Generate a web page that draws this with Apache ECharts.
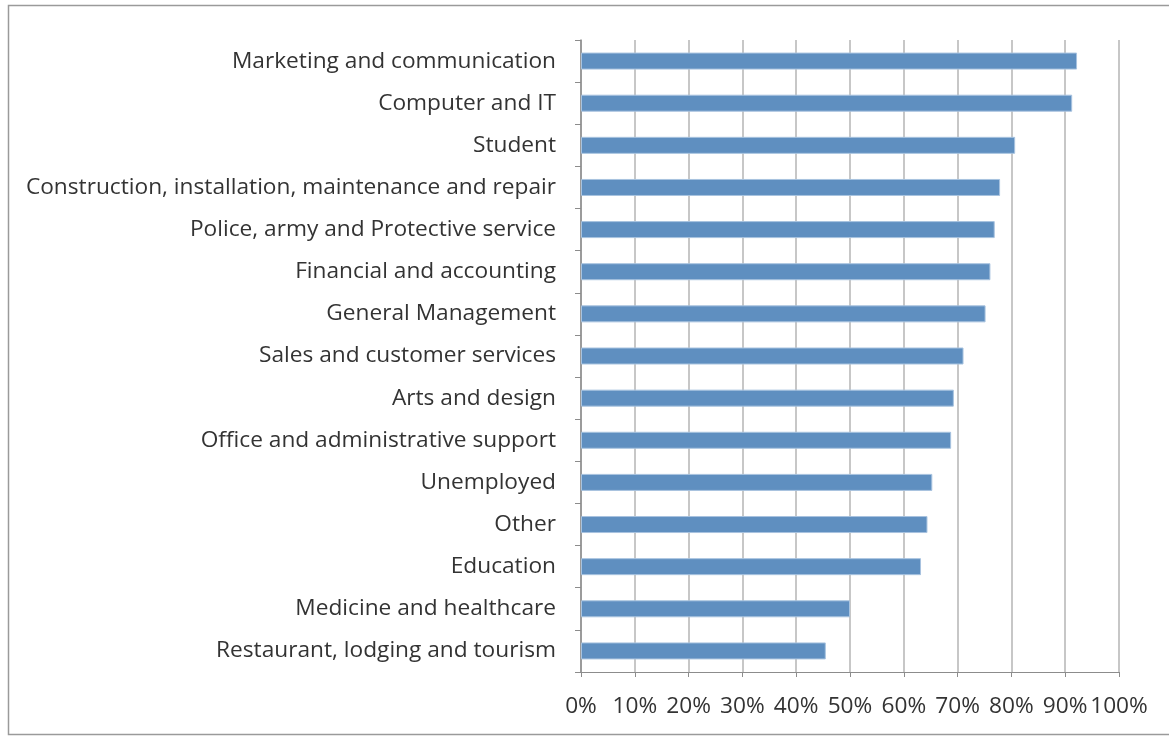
<!DOCTYPE html>
<html>
<head>
<meta charset="utf-8">
<script src="https://cdn.jsdelivr.net/npm/echarts@6/dist/echarts.min.js"></script>
<style>
  html, body { margin: 0; padding: 0; background: #fff; }
  #chart { width: 1169px; height: 737px; }
</style>
</head>
<body>
<div id="chart"></div>
<script>
// Occupations, listed top to bottom
const categories = [
  'Marketing and communication',
  'Computer and IT',
  'Student',
  'Construction, installation, maintenance and repair',
  'Police, army and Protective service',
  'Financial and accounting',
  'General Management',
  'Sales and customer services',
  'Arts and design',
  'Office and administrative support',
  'Unemployed',
  'Other',
  'Education',
  'Medicine and healthcare',
  'Restaurant, lodging and tourism'
];

// Share per occupation, in percent
const shares = [92.2, 91.3, 80.7, 77.9, 76.9, 76.1, 75.2, 71.1, 69.3, 68.8, 65.3, 64.4, 63.2, 50.0, 45.5];

// Value-axis ticks, in percent
const xTicks = [0, 10, 20, 30, 40, 50, 60, 70, 80, 90, 100];

const chart = echarts.init(document.getElementById('chart'), null, { renderer: 'canvas' });

const labelFont = {
  fontFamily: '"Open Sans", sans-serif',
  fontSize: 22.7,
  color: '#333333'
};

chart.setOption({
  animation: false,
  backgroundColor: '#ffffff',
  graphic: [{
    type: 'rect',
    shape: { x: 8.5, y: 5.5, width: 1180, height: 729 },
    style: { fill: 'none', stroke: '#9a9a9a', lineWidth: 1.5 },
    silent: true
  }],
  grid: { left: 581, right: 50, top: 40, bottom: 65, containLabel: false },
  xAxis: {
    type: 'value',
    min: xTicks[0],
    max: xTicks[xTicks.length - 1],
    interval: xTicks[1] - xTicks[0],
    axisLine: { show: true, lineStyle: { color: '#8c8c8c', width: 1 } },
    axisTick: { show: true, length: 5, lineStyle: { color: '#8c8c8c' } },
    splitLine: { show: true, lineStyle: { color: '#b4b4b4', width: 1.5 } },
    axisLabel: Object.assign({ formatter: '{value}%', margin: 23 }, labelFont)
  },
  yAxis: {
    type: 'category',
    data: categories,
    inverse: true,
    axisLine: { show: true, lineStyle: { color: '#8c8c8c', width: 1.5 } },
    axisTick: { show: true, length: 6, alignWithLabel: false, lineStyle: { color: '#8c8c8c' } },
    splitLine: { show: false },
    axisLabel: Object.assign({ margin: 25 }, labelFont)
  },
  series: [{
    type: 'bar',
    data: shares,
    barWidth: 17,
    itemStyle: {
      color: '#5f8fc0',
      borderColor: '#a8c3df',
      borderWidth: 1
    }
  }]
});
</script>
</body>
</html>
